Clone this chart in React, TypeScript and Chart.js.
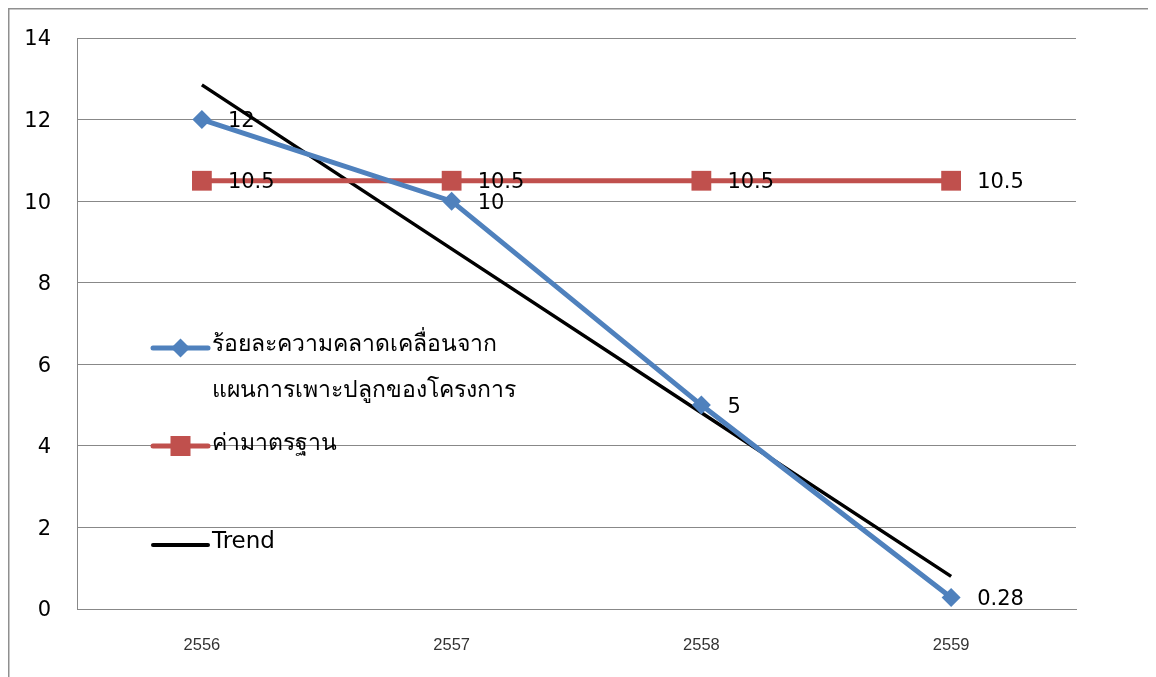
import React, { useEffect, useRef } from "react";
import { Chart, registerables } from "chart.js";

Chart.register(...registerables);

const years = ["2556", "2557", "2558", "2559"];
const deviation = [12, 10, 5, 0.28];
const standard = [10.5, 10.5, 10.5, 10.5];
const trend = [12.85, 8.83, 4.81, 0.8];
const deviationLegend = ["ร้อยละความคลาดเคลื่อนจาก", "แผนการเพาะปลูกของโครงการ"];
const standardLegend = "ค่ามาตรฐาน";
const trendLegend = "Trend";

const BLUE = "#4F81BD";
const RED = "#C0504D";
const GRID = "#888888";
const FONT = "'DejaVu Sans', 'Noto Sans', sans-serif";
const XFONT = "'Liberation Sans', 'Noto Sans', sans-serif";

const framePlugin = {
  id: "frame",
  beforeDraw(chart: any) {
    const ctx = chart.ctx;
    ctx.save();
    ctx.strokeStyle = "#8f8f8f";
    ctx.lineWidth = 1.5;
    ctx.beginPath();
    ctx.moveTo(0.75, chart.height);
    ctx.lineTo(0.75, 0.75);
    ctx.lineTo(chart.width, 0.75);
    ctx.stroke();
    ctx.restore();
  },
};

const labelPlugin = {
  id: "valueLabels",
  afterDatasetsDraw(chart: any) {
    const ctx = chart.ctx;
    ctx.save();
    ctx.font = `21px ${FONT}`;
    ctx.fillStyle = "#000";
    ctx.textAlign = "left";
    ctx.textBaseline = "middle";
    [0, 1].forEach((di) => {
      const ds = chart.data.datasets[di];
      const meta = chart.getDatasetMeta(di);
      meta.data.forEach((pt: any, i: number) => {
        ctx.fillText(String(ds.data[i]), pt.x + 26, pt.y + 2);
      });
    });
    ctx.restore();
  },
};

const legendPlugin = {
  id: "innerLegend",
  afterDraw(chart: any) {
    const ctx = chart.ctx;
    const ca = chart.chartArea;
    const x1 = ca.left + 76;
    const x2 = ca.left + 131;
    const xc = (x1 + x2) / 2;
    const tx = ca.left + 135;
    ctx.save();
    ctx.lineCap = "round";
    // blue
    const y = ca.top + 310;
    ctx.strokeStyle = BLUE;
    ctx.lineWidth = 5;
    ctx.beginPath();
    ctx.moveTo(x1, y);
    ctx.lineTo(x2, y);
    ctx.stroke();
    ctx.fillStyle = BLUE;
    ctx.beginPath();
    ctx.moveTo(xc, y - 9.5);
    ctx.lineTo(xc + 9.5, y);
    ctx.lineTo(xc, y + 9.5);
    ctx.lineTo(xc - 9.5, y);
    ctx.closePath();
    ctx.fill();
    // red
    const yr = ca.top + 408;
    ctx.strokeStyle = RED;
    ctx.beginPath();
    ctx.moveTo(x1, yr);
    ctx.lineTo(x2, yr);
    ctx.stroke();
    ctx.fillStyle = RED;
    ctx.fillRect(xc - 10, yr - 10, 20, 20);
    // trend
    const yt = ca.top + 507;
    ctx.strokeStyle = "#000";
    ctx.lineWidth = 4;
    ctx.beginPath();
    ctx.moveTo(x1, yt);
    ctx.lineTo(x2, yt);
    ctx.stroke();
    // texts
    ctx.font = `23px ${FONT}`;
    ctx.fillStyle = "#000";
    ctx.textAlign = "left";
    ctx.textBaseline = "middle";
    ctx.fillText(deviationLegend[0], tx, y - 3);
    ctx.fillText(deviationLegend[1], tx, ca.top + 353);
    ctx.fillText(standardLegend, tx, yr - 2);
    ctx.fillText(trendLegend, tx, yt - 3);
    ctx.restore();
  },
};

export default function App() {
  const ref = useRef<HTMLCanvasElement | null>(null);

  useEffect(() => {
    document.documentElement.style.overflow = "hidden";
    document.body.style.overflow = "hidden";
    if (!ref.current) return;
    const chart = new Chart(ref.current, {
      type: "line",
      data: {
        labels: years,
        datasets: [
          {
            label: deviationLegend.join(""),
            data: deviation,
            borderColor: BLUE,
            backgroundColor: BLUE,
            borderWidth: 5,
            pointStyle: "rectRot",
            pointRadius: 9.5,
            pointBorderWidth: 0,
            pointBackgroundColor: BLUE,
            tension: 0,
            order: 1,
          },
          {
            label: standardLegend,
            data: standard,
            borderColor: RED,
            backgroundColor: RED,
            borderWidth: 5,
            pointStyle: "rect",
            pointRadius: 14,
            pointBorderWidth: 0,
            pointBackgroundColor: RED,
            tension: 0,
            order: 2,
          },
          {
            label: trendLegend,
            data: trend,
            borderColor: "#000",
            backgroundColor: "#000",
            borderWidth: 3.5,
            pointRadius: 0,
            tension: 0,
            order: 3,
          },
        ],
      },
      options: {
        animation: false,
        responsive: true,
        maintainAspectRatio: false,
        layout: { padding: { left: 0, top: 30, right: 80, bottom: 0 } },
        plugins: {
          legend: { display: false },
          tooltip: { enabled: false },
        },
        scales: {
          x: {
            offset: true,
            grid: { display: false, drawTicks: false },
            border: { display: true, color: GRID, width: 1 },
            ticks: {
              padding: 27,
              color: "#333333",
              font: { family: XFONT, size: 16.5 },
            },
            afterFit(scale: any) {
              scale.height = 68;
            },
          },
          y: {
            min: 0,
            max: 14,
            grid: { color: GRID, lineWidth: 1, drawTicks: false },
            border: { display: true, color: GRID, width: 1 },
            ticks: {
              stepSize: 2,
              padding: 26,
              labelOffset: 2,
              color: "#000",
              font: { family: FONT, size: 21 },
            },
            afterFit(scale: any) {
              scale.width = 69;
              scale.paddingTop = 0;
              scale.paddingBottom = 0;
            },
          },
        },
      },
      plugins: [framePlugin, labelPlugin, legendPlugin],
    });
    return () => chart.destroy();
  }, []);

  return (
    <div style={{ position: "relative", width: 1148, height: 669 }}>
      <canvas ref={ref} />
    </div>
  );
}
